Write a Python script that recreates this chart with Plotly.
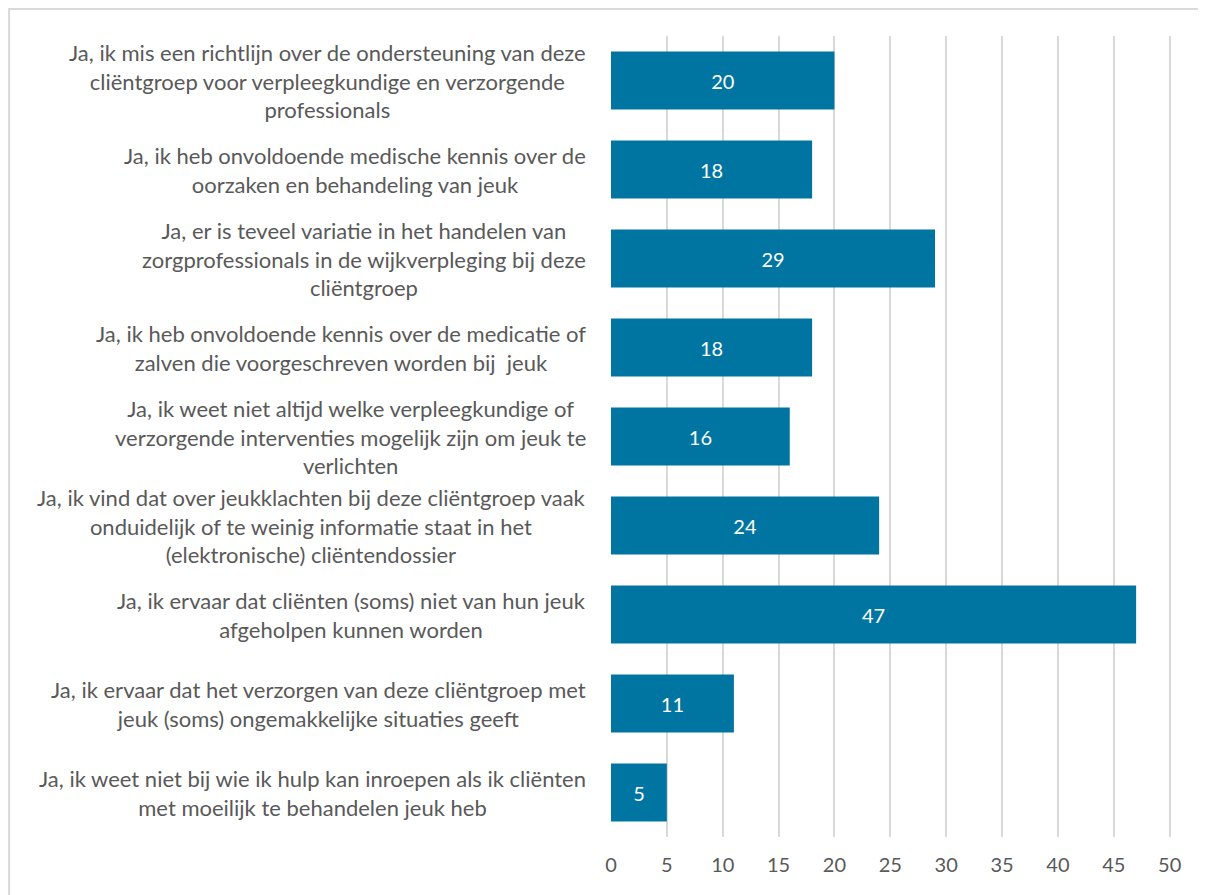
import plotly.graph_objects as go

categories = [
    "Ja, ik mis een richtlijn over de ondersteuning van deze<br>cliëntgroep voor verpleegkundige en verzorgende<br>professionals",
    "Ja, ik heb onvoldoende medische kennis over de<br>oorzaken en behandeling van jeuk",
    "Ja, er is teveel variatie in het handelen van<br>zorgprofessionals in de wijkverpleging bij deze<br>cliëntgroep",
    "Ja, ik heb onvoldoende kennis over de medicatie of<br>zalven die voorgeschreven worden bij  jeuk",
    "Ja, ik weet niet altijd welke verpleegkundige of<br>verzorgende interventies mogelijk zijn om jeuk te<br>verlichten",
    "Ja, ik vind dat over jeukklachten bij deze cliëntgroep vaak<br>onduidelijk of te weinig informatie staat in het<br>(elektronische) cliëntendossier",
    "Ja, ik ervaar dat cliënten (soms) niet van hun jeuk<br>afgeholpen kunnen worden",
    "Ja, ik ervaar dat het verzorgen van deze cliëntgroep met<br>jeuk (soms) ongemakkelijke situaties geeft",
    "Ja, ik weet niet bij wie ik hulp kan inroepen als ik cliënten<br>met moeilijk te behandelen jeuk heb",
]
values = [20, 18, 29, 18, 16, 24, 47, 11, 5]
x_ticks = list(range(0, 55, 5))

FONT = "Lato"
GREY = "#595959"

fig = go.Figure(go.Bar(
    x=values,
    y=list(range(len(categories))),
    orientation="h",
    marker=dict(color="#0075A2", line=dict(width=0)),
    text=values,
    textposition="inside",
    insidetextanchor="middle",
    textfont=dict(family=FONT, size=20, color="white"),
    hoverinfo="skip",
))

# category labels, centred lines like the original
for i, cat in enumerate(categories):
    fig.add_annotation(
        x=-0.041, xref="paper", xanchor="right",
        y=i, yref="y",
        text=cat, showarrow=False, align="center",
        font=dict(family=FONT, size=22, color=GREY),
    )

# outer chart border (cropped on right/bottom in the original)
fig.add_shape(
    type="rect", xref="paper", yref="paper",
    x0=-1.071, x1=1.2, y0=-0.2, y1=1.0337,
    line=dict(color="#D9D9D9", width=2),
)

# page body adds an 8px offset, so the figure is drawn 8px smaller
fig.update_layout(
    width=1198, height=887,
    margin=dict(l=603, r=33, t=28, b=58),
    plot_bgcolor="white", paper_bgcolor="white",
    bargap=0.35,
    showlegend=False,
    font=dict(family=FONT, size=20, color=GREY),
)
fig.update_xaxes(
    range=[0, 50.3], tickvals=x_ticks,
    showgrid=True, gridcolor="#D9D9D9", gridwidth=1.5,
    zeroline=False, showline=False,
    ticks="", ticklabelstandoff=14,
    tickfont=dict(family=FONT, size=20, color=GREY),
)
fig.update_yaxes(
    range=[len(categories) - 0.5, -0.5],
    showticklabels=False, showgrid=False, zeroline=False, showline=False,
)

fig.write_html("out.html")
